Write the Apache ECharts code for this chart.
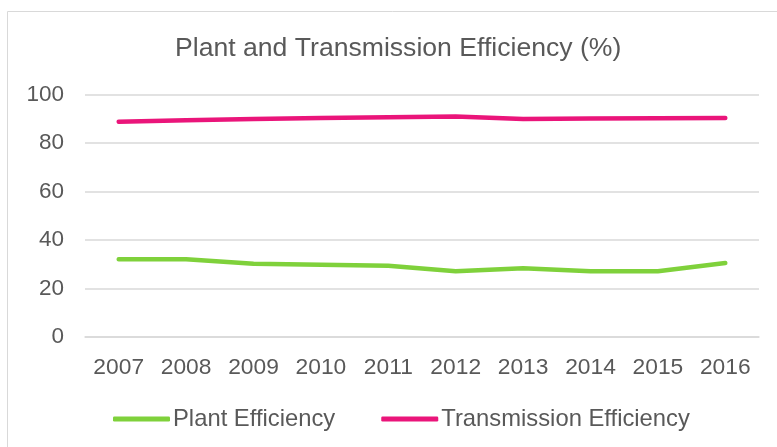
<!DOCTYPE html>
<html lang="en">
<head>
    <meta charset="UTF-8">
    <title>Plant and Transmission Efficiency</title>
    <script src="https://cdn.jsdelivr.net/npm/echarts@6/dist/echarts.min.js"></script>
    <style>
        html, body { margin: 0; padding: 0; background: #fff; }
    </style>
</head>
<body>
    <div id="main" style="width: 777px;height:447px;"></div>
    <script>
        // data
        var years = ['2007', '2008', '2009', '2010', '2011', '2012', '2013', '2014', '2015', '2016'];
        var plantEff = [32.1, 32.1, 30.2, 29.8, 29.4, 27.1, 28.3, 27.1, 27.1, 30.5];
        var transEff = [88.8, 89.4, 89.9, 90.3, 90.6, 90.9, 89.9, 90.1, 90.2, 90.3];

        var font = '"Liberation Sans", Arial, sans-serif';
        var textColor = '#595959';

        var chart = echarts.init(document.getElementById('main'));

        var option = {
            animation: false,
            title: {
                text: 'Plant and Transmission Efficiency (%)',
                left: 175,
                top: 35,
                padding: 0,
                textStyle: { color: textColor, fontSize: 26.6, fontWeight: 'normal', fontFamily: font }
            },
            // chart frame, top-left corner only is visible
            graphic: [{
                type: 'rect',
                shape: { x: 7.5, y: 11.5, width: 800, height: 500 },
                style: { fill: 'none', stroke: '#d9d9d9', lineWidth: 1 },
                silent: true
            }],
            legend: {
                data: ['Plant Efficiency', 'Transmission Efficiency'],
                left: 113,
                top: 407,
                padding: 0,
                itemGap: 46,
                itemWidth: 57,
                itemHeight: 5,
                icon: 'roundRect',
                textStyle: { color: textColor, fontSize: 23.8, fontFamily: font, padding: [0, 0, 0, -2] }
            },
            grid: {
                left: 85,
                right: 18,
                top: 94.5,
                bottom: 110
            },
            xAxis: {
                type: 'category',
                data: years,
                boundaryGap: true,
                axisLine: { lineStyle: { color: '#d9d9d9', width: 1.5 } },
                axisTick: { show: false },
                axisLabel: { color: textColor, fontSize: 22.8, fontFamily: font, margin: 19 }
            },
            yAxis: {
                type: 'value',
                min: 0,
                max: 100,
                interval: 20,
                axisLine: { show: false },
                axisTick: { show: false },
                splitLine: { lineStyle: { color: '#d9d9d9', width: 1.5 } },
                axisLabel: { color: textColor, fontSize: 22.5, fontFamily: font, margin: 21 }
            },
            series: [
                {
                    name: 'Plant Efficiency',
                    type: 'line',
                    data: plantEff,
                    symbol: 'none',
                    color: '#7fd13b',
                    lineStyle: { width: 4.5, cap: 'round', join: 'round' }
                },
                {
                    name: 'Transmission Efficiency',
                    type: 'line',
                    data: transEff,
                    symbol: 'none',
                    color: '#ea157a',
                    lineStyle: { width: 4.5, cap: 'round', join: 'round' }
                }
            ]
        };

        chart.setOption(option);
    </script>
</body>
</html>
